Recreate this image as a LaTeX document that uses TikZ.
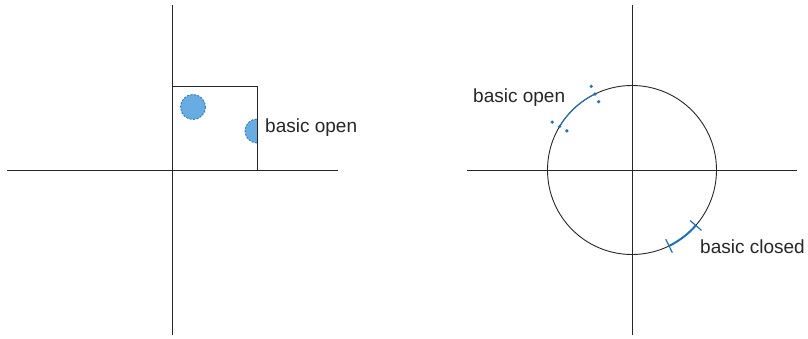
\documentclass[tikz,border=0pt]{standalone}
\usepackage{fontspec}
\setmainfont{Liberation Sans}
\definecolor{fillblue}{RGB}{104,172,226}
\definecolor{edgeblue}{RGB}{40,118,196}
\definecolor{arcblue}{RGB}{30,112,190}
\tikzset{
  axis/.style={line width=0.9pt,black!85},
  blob/.style={fill=fillblue,draw=edgeblue,dashed,dash pattern=on 2pt off 1.5pt,line width=0.9pt},
  lbl/.style={font=\fontsize{19}{21}\selectfont,text=black!85,inner sep=0pt,anchor=west},
  dotmark/.style={fill=arcblue},
  solidtick/.style={draw=arcblue,line width=1.2pt}
}
\begin{document}
\begin{tikzpicture}[x=1pt,y=-1pt]
\useasboundingbox (0,0) rectangle (808,339);
% ---------- left panel ----------
\coordinate (lt) at (172,5);
\coordinate (lb) at (172,335);
\coordinate (ll) at (7,170);
\coordinate (lr) at (338,170);
\draw[axis] (lt) -- (lb);
\draw[axis] (ll) -- (lr);
\draw[axis] (172,86) rectangle (257,170);
\coordinate (c1) at (193,107);
\fill[blob] (c1) circle (12.5);
\fill[fillblue] (257,143) arc (90:270:12) -- cycle;
\draw[blob,fill=none] (257,143) arc (90:270:12);
\draw[axis] (257,115) -- (257,147);
\node[lbl] (lopen) at (265,128) {basic open};
% ---------- right panel ----------
\coordinate (o) at (632,170);
\coordinate (rt) at (632,5);
\coordinate (rb) at (632,335);
\coordinate (rl) at (467,170);
\coordinate (rr) at (797,170);
\draw[axis] (rt) -- (rb);
\draw[axis] (rl) -- (rr);
\draw[axis] (o) circle (84.5);
% open arc
\draw[arcblue,line width=1.1pt] ([shift={(-116:84.5)}]o) arc (-116:-149:84.5);
\foreach \a in {-116,-149}{
  \foreach \r in {76,84.5,93}{
    \fill[dotmark] ([shift={(\a:\r)}]o) circle (1.8);
  }
}
\node[lbl] (ropen) at (473,98) {basic open};
% closed arc
\draw[arcblue,line width=2pt] ([shift={(41:84.5)}]o) arc (41:64:84.5);
\draw[solidtick] ([shift={(41:77)}]o) -- ([shift={(41:92)}]o);
\draw[solidtick] ([shift={(64:77)}]o) -- ([shift={(64:92)}]o);
\node[lbl] (rclosed) at (700,247) {basic closed};
\end{tikzpicture}
\end{document}
